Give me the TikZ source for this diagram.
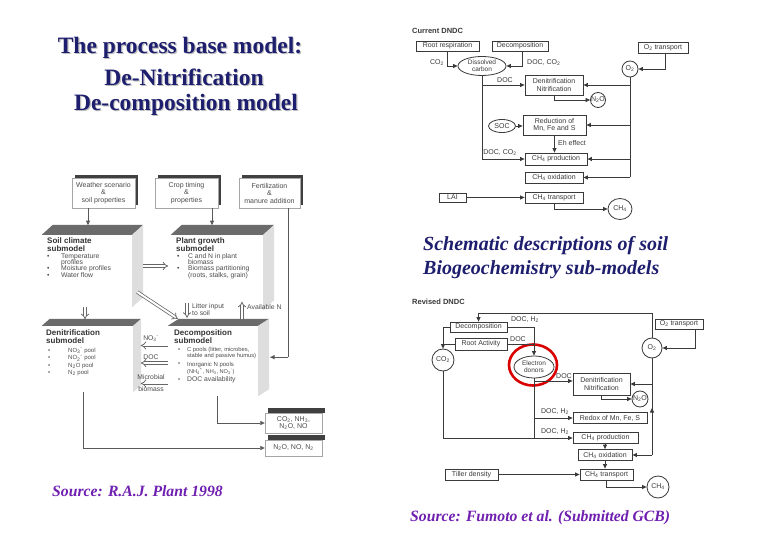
\documentclass[tikz,border=0pt]{standalone}
\usepackage{fontspec}
\setmainfont{Liberation Serif}
\setsansfont{Liberation Sans}
\usetikzlibrary{arrows.meta,shapes.geometric,calc}
\newcommand\lsub[1]{\textsubscript{#1}}
\newcommand\lsup[1]{\textsuperscript{#1}}
\definecolor{navy}{HTML}{1E1E6E}
\definecolor{srcpurple}{HTML}{7020B0}
\definecolor{lnc}{HTML}{3A3A3A}
\begin{document}
\begin{tikzpicture}[x=1pt,y=-1pt,
  rb/.style={draw=lnc, line width=0.8pt, fill=white, font=\sffamily\fontsize{7}{7.5}\selectfont, inner sep=0pt, align=center, text=lnc},
  rc/.style={rb, circle},
  re/.style={rb, ellipse},
  arr/.style={draw=lnc, line width=0.8pt, -{Triangle[length=4.5pt,width=4pt]}},
  lin/.style={draw=lnc, line width=0.8pt},
  lbl/.style={font=\sffamily\fontsize{7}{7.5}\selectfont, text=lnc, inner sep=0pt},
  tbox/.style={draw=black!35, fill=white, line width=0.4pt, font=\sffamily\fontsize{7}{7.5}\selectfont, text=black!70, align=center, inner sep=0pt},
  front/.style={fill=white, inner sep=0pt},
  gtxt/.style={font=\sffamily\fontsize{6.8}{7}\selectfont, text=black!70, anchor=west, inner sep=0pt},
  stxt/.style={gtxt, font=\sffamily\fontsize{6}{6}\selectfont},
  gbold/.style={font=\sffamily\bfseries\fontsize{8}{8}\selectfont, text=black!80, anchor=west, inner sep=0pt},
  hol/.style={draw=black!60, line width=0.75pt, double=white, double distance=2pt, -{Implies}},
  garr/.style={draw=black!65, line width=0.7pt, -{Triangle[length=4.5pt,width=4pt]}},
  glin/.style={draw=black!65, line width=0.7pt},
  ttl/.style={font=\fontsize{23.5}{26}\selectfont\bfseries, text=navy, inner sep=0pt},
  sch/.style={font=\fontsize{20}{22}\selectfont\bfseries\itshape, text=navy, inner sep=0pt, anchor=west},
  src/.style={font=\fontsize{15.7}{18}\selectfont\bfseries\itshape, text=srcpurple, inner sep=0pt, anchor=west}
]
\useasboundingbox[fill=white] (0,0) rectangle (780,540);

% ---------------- titles ----------------
\foreach \t/\x/\y/\s in {t1/180/48/{The process base model:}, t2/184/77/{De-Nitrification}, t3/186/105/{De-composition model}} {
  \node[ttl, text=black!25] at (\x+1.2,\y+1.2) {\s};
  \node[ttl] (\t) at (\x,\y) {\s};
}
\node[sch] (s1) at (423,246) {Schematic descriptions of soil};
\node[sch] (s2) at (423,270) {Biogeochemistry sub-models};
\node[src] (src1) at (52,491) {Source: R.A.J. Plant 1998};
\node[src] (src2) at (410,518) {Source: Fumoto et al. (Submitted GCB)};

% ---------------- left diagram (Plant 1998) ----------------
\fill[black!75] (75,175) rectangle (138,205);
\fill[black!75] (158,175) rectangle (221,205);
\fill[black!75] (242,175) rectangle (303,205);
\node[tbox, minimum width=63, minimum height=30] (wea) at (103.5,193) {Weather scenario\\\&\\soil properties};
\node[tbox, minimum width=63, minimum height=30] (crop) at (186.5,193) {Crop timing\\\&\\properties};
\node[tbox, minimum width=61, minimum height=30] (fert) at (269.5,193) {Fertilization\\\&\\manure addition};

\node[front, minimum width=90, minimum height=72] (soil) at (87,271) {};
\node[front, minimum width=92, minimum height=75] (plant) at (217,272.5) {};
\node[front, minimum width=91, minimum height=66] (den) at (87.5,359) {};
\node[front, minimum width=90, minimum height=70] (dec) at (213,361) {};
\foreach \n/\dx/\dy in {soil/11/10, plant/11/10, den/8/7, dec/11/7} {
  \fill[black!58] (\n.north west) -- ++(\dx,-\dy) -- ($(\n.north east)+(\dx,-\dy)$) -- (\n.north east) -- cycle;
  \fill[black!13] (\n.north east) -- ++(\dx,-\dy) -- ($(\n.south east)+(\dx,-\dy)$) -- (\n.south east) -- cycle;
}

\node[gbold] (soilt) at (47,241) {Soil climate};
\node[gbold] (soilt2) at (47,249) {submodel};
\node[gtxt] (sb1) at (47,256.5) {\textbullet}; \node[gtxt] (sl1) at (61,256.5) {Temperature};
\node[gtxt] (sl1b) at (61,262.5) {profiles};
\node[gtxt] (sb2) at (47,269) {\textbullet}; \node[gtxt] (sl2) at (61,269) {Moisture profiles};
\node[gtxt] (sb3) at (47,275.5) {\textbullet}; \node[gtxt] (sl3) at (61,275.5) {Water flow};

\node[gbold] (plt) at (176,241) {Plant growth};
\node[gbold] (plt2) at (176,249) {submodel};
\node[gtxt] (pb1) at (177,256.5) {\textbullet}; \node[gtxt] (pl1) at (188,256.5) {C and N in plant};
\node[gtxt] (pl1b) at (188,262.5) {biomass};
\node[gtxt] (pb2) at (177,269) {\textbullet}; \node[gtxt] (pl2) at (188,269) {Biomass partitioning};
\node[gtxt] (pl2b) at (188,275.5) {(roots, stalks, grain)};

\node[gbold] (dnt) at (46,333) {Denitrification};
\node[gbold] (dnt2) at (46,341) {submodel};
\node[stxt] (db1) at (48,351) {\textbullet}; \node[stxt] (dl1) at (68,351) {NO\lsub{3}\lsup{-} pool};
\node[stxt] (db2) at (48,358.5) {\textbullet}; \node[stxt] (dl2) at (68,358.5) {NO\lsub{2}\lsup{-} pool};
\node[stxt] (db3) at (48,366) {\textbullet}; \node[stxt] (dl3) at (68,366) {N\lsub{2}O pool};
\node[stxt] (db4) at (48,373) {\textbullet}; \node[stxt] (dl4) at (68,373) {N\lsub{2} pool};

\node[gbold] (dct) at (174,333) {Decomposition};
\node[gbold] (dct2) at (174,341) {submodel};
\node[stxt] (cb1) at (178,350.5) {\textbullet}; \node[stxt, font=\sffamily\fontsize{5.8}{6}\selectfont] (cl1) at (187,350.5) {C pools (litter, microbes,};
\node[stxt, font=\sffamily\fontsize{5.8}{6}\selectfont] (cl1b) at (187,356.5) {stable and passive humus)};
\node[stxt] (cb2) at (178,364.5) {\textbullet}; \node[stxt] (cl2) at (187,364.5) {Inorganic N pools};
\node[stxt, font=\sffamily\fontsize{5.6}{6}\selectfont] (cl2b) at (187,371.5) {(NH\lsub{4}\lsup{+}, NH\lsub{3}, NO\lsub{3}\lsup{-})};
\node[stxt] (cb3) at (178,380) {\textbullet}; \node[gtxt] (cl3) at (187,380) {DOC availability};

% output boxes
\fill[black!75] (268,408) rectangle (325,413);
\fill[black!75] (268,435) rectangle (325,440);
\node[tbox, minimum width=57, minimum height=20] (out1) at (293.5,423) {CO\lsub{2}, NH\lsub{3},\\N\lsub{2}O, NO};
\node[tbox, minimum width=57, minimum height=16] (out2) at (293.5,448) {N\lsub{2}O, NO, N\lsub{2}};

% left connectors
\draw[garr] ([xshift=-15.5pt]wea.south) -- ++(0,17);
\draw[garr] ([xshift=25.5pt]crop.south) -- ++(0,17);
\draw[glin] ([xshift=18.5pt]fert.south) -- ++(0,149) coordinate (fcor);
\draw[garr] (fcor) -- ++(-18,0);
\draw[hol] ([xshift=11pt]soil.east |- 0,266) -- ++(25,0);
\draw[hol] ([xshift=5pt,yshift=-21pt]soil.east) -- ([xshift=10pt,yshift=7pt]dec.north west);
\draw[hol] ([xshift=-2pt]soil.south) -- ++(0,12);
\draw[hol] ([xshift=-26pt,yshift=23pt]dec.north) -- ++(0,15);
\node[gtxt] (litter) at (192,307) {Litter input};
\node[gtxt] (litter2) at (192,313) {to soil};
\draw[hol] ([xshift=29pt,yshift=7pt]dec.north) -- ++(0,-17);
\node[gtxt] (avn) at (247,307) {Available N};
\draw[hol] (dec.west |- 0,345.5) -- ++(-27,0);
\node[gtxt, anchor=center] (no3l) at (151,338.5) {NO\lsub{3}\lsup{-}};
\draw[hol] (dec.west |- 0,363) -- ++(-27,0);
\node[gtxt, anchor=center] (docl) at (151,357) {DOC};
\draw[hol] (dec.west |- 0,383.5) -- ++(-27,0);
\node[gtxt, anchor=center] (mbl) at (151,377.5) {Microbial};
\node[gtxt, anchor=center] (mbl2) at (151,389.5) {biomass};
\draw[garr] ([xshift=4pt]dec.south) |- (out1.west);
\draw[garr] ([xshift=-4.5pt]den.south) |- (out2.west);

% ---------------- Current DNDC ----------------
\node[lbl, anchor=west, font=\sffamily\bfseries\fontsize{7.5}{8}\selectfont] (curlbl) at (412,31) {Current DNDC};
\node[rb, minimum width=63, minimum height=10] (rr) at (447.5,46) {Root respiration};
\node[rb, minimum width=56, minimum height=10] (dec1) at (520,46) {Decomposition};
\node[rb, minimum width=50, minimum height=11] (o2t1) at (663,47.5) {O\lsub{2} transport};
\node[re, minimum width=48, minimum height=19, font=\sffamily\fontsize{6.5}{7}\selectfont] (dc) at (482,66) {Dissolved\\carbon};
\node[rc, minimum size=16] (o2c1) at (630,69) {O\lsub{2}};
\node[rb, minimum width=58, minimum height=20] (den1) at (554,85) {Denitrification\\Nitrification};
\node[rc, minimum size=15] (n2o1) at (598,100) {N\lsub{2}O};
\node[re, minimum width=27, minimum height=13] (soc) at (502,126) {SOC};
\node[rb, minimum width=63, minimum height=20] (red) at (554.5,125) {Reduction of\\Mn, Fe and S};
\node[rb, minimum width=62, minimum height=12] (ch4p1) at (556,159) {CH\lsub{4} production};
\node[rb, minimum width=58, minimum height=11] (ch4o1) at (554,177.5) {CH\lsub{4} oxidation};
\node[rb, minimum width=27, minimum height=9] (lai) at (452.5,197.5) {LAI};
\node[rb, minimum width=58, minimum height=11] (ch4t1) at (554,197.5) {CH\lsub{4} transport};
\node[re, minimum width=24, minimum height=21] (ch4c1) at (620,209) {CH\lsub{4}};

\draw[arr] (rr.south) |- (dc.west);
\node[lbl] (co2l1) at (437,63) {CO\lsub{2}};
\draw[arr] ([xshift=2pt]dec1.south) |- (dc.east);
\node[lbl, anchor=west] (docco2) at (527,63) {DOC, CO\lsub{2}};
\draw[arr] ([xshift=2pt]o2t1.south) |- (o2c1.east);
\draw[lin] (dc.south) -- (dc.south |- ch4p1.west);
\draw[arr] (dc.south) |- (den1.west);
\node[lbl] (docl1) at (505,80) {DOC};
\draw[arr] (dc.south) |- (ch4p1.west);
\node[lbl] (docco2b) at (500,153) {DOC, CO\lsub{2}};
\draw[arr] (den1.south) |- (n2o1.west);
\draw[arr] (soc.east) -- (soc.east -| red.west);
\draw[arr] (red.south) -- (red.south |- ch4p1.north);
\node[lbl, anchor=west] (eh) at (558,143) {Eh effect};
\draw[lin] (o2c1.south) -- (o2c1.south |- ch4o1.east);
\draw[arr] (o2c1.south |- den1.east) -- (den1.east);
\draw[arr] (o2c1.south |- red.east) -- (red.east);
\draw[arr] (o2c1.south |- ch4p1.east) -- (ch4p1.east);
\draw[arr] (o2c1.south |- ch4o1.east) -- (ch4o1.east);
\draw[arr] (lai.east) -- (ch4t1.west);
\draw[arr] (ch4t1.south) |- (ch4c1.west);

% ---------------- Revised DNDC ----------------
\node[lbl, anchor=west, font=\sffamily\bfseries\fontsize{7.5}{8}\selectfont] (revlbl) at (412,302) {Revised DNDC};
\node[rb, minimum width=57, minimum height=10] (dec2) at (478.5,327) {Decomposition};
\node[rb, minimum width=52, minimum height=12] (ra) at (481,344) {Root Activity};
\node[rc, minimum size=22] (co2c) at (443,360) {CO\lsub{2}};
\node[re, minimum width=40, minimum height=22, font=\sffamily\fontsize{6.5}{7}\selectfont] (ed) at (534,367) {Electron\\donors};
\node[ellipse, draw=red!85!black, line width=2.6pt, minimum width=48, minimum height=41] (ring) at (533,365) {};
\node[rb, minimum width=57, minimum height=22] (den2) at (601.5,384) {Denitrification\\Nitrification};
\node[rc, minimum size=16] (n2o2) at (640,399) {N\lsub{2}O};
\node[rb, minimum width=48, minimum height=10] (o2t2) at (679,324) {O\lsub{2} transport};
\node[rc, minimum size=20] (o2c2) at (652,348) {O\lsub{2}};
\node[rb, minimum width=74, minimum height=11] (redx) at (610,418) {Redox of Mn, Fe, S};
\node[rb, minimum width=65, minimum height=11] (ch4p2) at (605.5,438) {CH\lsub{4} production};
\node[rb, minimum width=54, minimum height=11] (ch4o2) at (605,455) {CH\lsub{4} oxidation};
\node[rb, minimum width=53, minimum height=11] (ch4t2) at (606.5,474.5) {CH\lsub{4} transport};
\node[rb, minimum width=53, minimum height=11] (till) at (471.5,474.5) {Tiller density};
\node[rc, minimum size=22] (ch4c2) at (658,487) {CH\lsub{4}};

\coordinate (loop) at (652,313);
\draw[arr] (o2c2.north) -- (loop) -| (dec2.north);
\draw[arr] (dec2.east) -| (ed.north);
\node[lbl] (doch1) at (525,320) {DOC, H\lsub{2}};
\draw[lin] (ra.east) -- (ra.east -| ed.north);
\node[lbl] (docl2) at (518,339) {DOC};
\draw[arr] (dec2.west) -| (co2c.north);
\draw[lin] (ra.west) -- (ra.west -| co2c.north);
\draw[lin] (ed.south) -- (ed.south |- ch4p2.west);
\draw[arr] (ed.south) |- ([yshift=3pt]den2.west);
\node[lbl] (docl3) at (564,376) {DOC};
\draw[arr] (ed.south) |- (redx.west);
\node[lbl] (doch2) at (555,412) {DOC, H\lsub{2}};
\draw[arr] (co2c.south) |- (ch4p2.west);
\node[lbl] (doch3) at (555,432) {DOC, H\lsub{2}};
\draw[arr] (den2.south) |- (n2o2.west);
\draw[arr] ([xshift=16pt]o2t2.south) |- (o2c2.east);
\draw[lin] (o2c2.south) -- (o2c2.south |- ch4o2.east);
\draw[arr] (o2c2.south |- den2.east) -- (den2.east);
\draw[arr] (o2c2.south |- ch4o2.east) -- (ch4o2.east);
\draw[arr] (o2c2.south |- redx.east) -- ++(0,-10);
\draw[arr] (ch4o2.north |- ch4p2.south) -- (ch4o2.north);
\draw[arr] (ch4o2.south) -- (ch4o2.south |- ch4t2.north);
\draw[arr] (till.east) -- (ch4t2.west);
\draw[arr] (ch4t2.south) |- (ch4c2.west);
\end{tikzpicture}
\end{document}
